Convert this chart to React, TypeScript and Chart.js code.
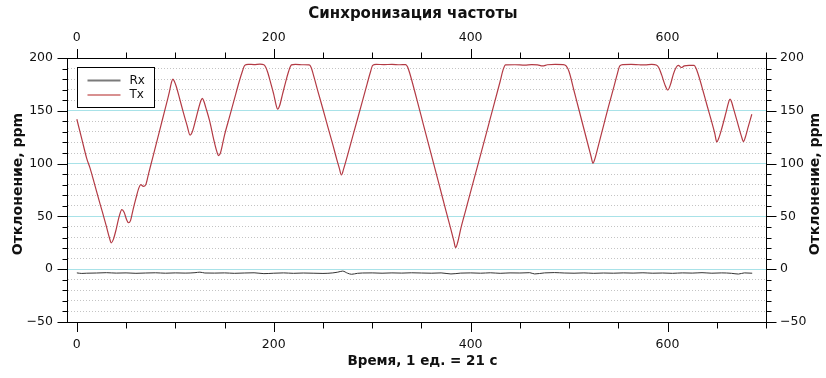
import React, { useEffect, useRef } from 'react';
import { Chart, registerables } from 'chart.js';

Chart.register(...registerables);

const FONT = "'DejaVu Sans', sans-serif";

const chartTitle = 'Синхронизация частоты';
const yAxisTitle = 'Отклонение, ppm';
const xAxisTitle = 'Время, 1 ед. = 21 с';
const seriesNames = ['Rx', 'Tx'];

const xMin = -10;
const xMax = 700;
const yMin = -50;
const yMax = 200;

// Tx series: [time, deviation]
const txSeries: [number, number][] = [
  [0, 142], [5, 123.5], [10, 105], [13.5, 95.5], [18, 80.5], [22, 67], [26, 54], [30, 40.5],
  [33, 30], [35, 25], [37, 28], [40, 38], [43, 50], [45.7, 56.5], [48, 54], [50.5, 47],
  [52.5, 44], [54.5, 46], [57, 56], [60, 67], [63, 77], [65, 80], [67.5, 78.5], [70, 80],
  [73, 91], [77, 105.5], [82, 123.7], [87, 142], [91, 156.5], [94, 168], [96, 176.5], [97.5, 180],
  [99, 178], [101, 173], [104, 163], [108, 149], [112, 136], [115, 127], [117, 129.5], [120, 139],
  [123, 150], [126, 159.5], [127.5, 161.8], [129, 159], [131, 153], [135, 140], [139, 123], [142, 112],
  [144, 107.5], [146, 110.5], [150, 127], [155, 144], [160, 161], [165, 178], [168, 187], [170.5, 193],
  [174, 194], [180, 193.8], [186, 194.2], [190, 193.6], [192, 191], [194, 186], [197, 176], [200, 165.5],
  [202, 157], [204, 151.5], [206, 155], [209, 166], [212, 177], [215, 187], [218, 193.5], [222, 194],
  [230, 193.6], [236, 193.4], [238, 191], [240, 185], [245, 168], [250, 151.5], [255, 134.5], [260, 118],
  [264, 104], [266.5, 96], [268.7, 89.2], [271, 95], [275, 108], [280, 125], [285, 142], [290, 159],
  [295, 176], [298, 186], [300.5, 193], [304, 194], [312, 193.7], [320, 194], [328, 193.6], [334, 193.8],
  [336, 191.5], [338, 186], [345, 162], [352, 137], [360, 108.5], [368, 80], [375, 55], [380, 37.5],
  [383, 26.5], [384.8, 20.4], [387, 26], [390, 38.5], [395, 56], [400, 73.5], [410, 108], [420, 143],
  [430, 178], [433, 189], [435.5, 193.5], [445, 193.6], [455, 193.2], [462, 193.8], [468, 193.5], [473, 192.5],
  [478, 193.6], [486, 194], [494, 193.8], [497, 192.5], [500, 187], [505, 169], [510, 151], [515, 133],
  [520, 115], [522.5, 106], [524.2, 100.3], [526, 104], [530, 118], [535, 136], [540, 154], [545, 171],
  [549, 185], [551.5, 192.5], [555, 193.8], [563, 194], [571, 193.6], [577, 193.4], [584, 194], [588.5, 193.4],
  [591, 191], [594, 184], [597, 175.5], [600.3, 169.7], [603, 175], [606, 185], [609, 191.5], [611, 193],
  [614, 191], [617, 192.5], [622, 193], [627, 193], [629, 190], [632, 182], [636, 169], [640, 155.5],
  [645, 139], [648, 128.5], [650, 120.5], [652, 124], [655, 133], [659, 147], [662, 158], [663.5, 161],
  [665, 158.5], [667, 152], [671, 139], [675, 126], [677.2, 120.8], [679, 125], [682, 135], [685.6, 146.7],
];

// Rx series: [time, deviation]
const rxSeries: [number, number][] = [
  [0, -3.5], [5, -4], [10, -3.8], [20, -3.6], [30, -3.3], [40, -3.7], [50, -3.5], [60, -3.9],
  [70, -3.6], [80, -3.4], [90, -3.8], [100, -3.5], [110, -3.7], [120, -3.3], [125, -2.8], [130, -3.6],
  [140, -3.7], [150, -3.5], [160, -3.9], [170, -3.6], [180, -3.4], [190, -4.2], [200, -3.8], [210, -3.5],
  [220, -3.9], [230, -3.6], [240, -3.8], [250, -4], [260, -3.5], [265, -2.8], [270, -1.8], [275, -3.8],
  [279, -4.8], [285, -3.9], [290, -3.6], [300, -3.5], [310, -3.8], [320, -3.5], [330, -3.7], [340, -3.4],
  [350, -3.6], [360, -3.8], [370, -3.5], [380, -4.5], [390, -3.7], [400, -3.5], [410, -3.8], [420, -3.4],
  [430, -3.9], [440, -3.5], [450, -3.6], [460, -3.3], [465, -4.5], [475, -3.5], [485, -3.2], [495, -3.6],
  [505, -3.8], [515, -3.5], [525, -3.9], [535, -3.6], [545, -3.8], [555, -3.5], [565, -3.7], [575, -3.4],
  [585, -3.8], [595, -3.6], [605, -3.9], [615, -3.5], [625, -3.7], [635, -3.3], [645, -3.8], [655, -3.5],
  [665, -3.9], [672, -4.6], [678, -3.5], [686, -3.8],
];

const seriesColors = ['#333333', '#b33a44'];
const legendColors = ['#7a7a7a', '#d89090'];

const fmt = (v: number) => (v < 0 ? '\u2212' + Math.abs(v) : String(v));

const tickMarks = {
  id: 'tickMarks',
  afterDraw(chart: any) {
    const { ctx, chartArea: a, scales } = chart;
    ctx.save();
    ctx.strokeStyle = '#000';
    ctx.lineWidth = 1;
    ctx.beginPath();
    const bottom = Math.round(a.bottom) + 0.5;
    const top = Math.round(a.top) + 0.5;
    const left = Math.round(a.left) + 0.5;
    const right = Math.round(a.right) + 0.5;
    for (const t of scales.x.ticks) {
      const p = Math.round(scales.x.getPixelForValue(t.value)) + 0.5;
      const len = t.value % 200 === 0 ? 9.5 : 6;
      ctx.moveTo(p, bottom);
      ctx.lineTo(p, bottom + len);
    }
    for (const t of scales.x2.ticks) {
      const p = Math.round(scales.x2.getPixelForValue(t.value)) + 0.5;
      const len = t.value % 200 === 0 ? 9.5 : 6;
      ctx.moveTo(p, top);
      ctx.lineTo(p, top - len);
    }
    for (const t of scales.y.ticks) {
      const p = Math.round(scales.y.getPixelForValue(t.value)) + 0.5;
      const len = t.value % 50 === 0 ? 10 : 5;
      ctx.moveTo(left, p);
      ctx.lineTo(left - len, p);
    }
    for (const t of scales.y2.ticks) {
      const p = Math.round(scales.y2.getPixelForValue(t.value)) + 0.5;
      const len = t.value % 50 === 0 ? 10 : 5;
      ctx.moveTo(right, p);
      ctx.lineTo(right + len, p);
    }
    ctx.stroke();
    ctx.restore();
  },
};

const legendBox = {
  id: 'legendBox',
  afterDraw(chart: any) {
    const { ctx, chartArea: a } = chart;
    const x = Math.round(a.left) + 10.5;
    const y = Math.round(a.top) + 9.5;
    const w = 77;
    const h = 40;
    ctx.save();
    ctx.fillStyle = '#fff';
    ctx.fillRect(x, y, w, h);
    ctx.strokeStyle = '#000';
    ctx.lineWidth = 1;
    ctx.strokeRect(x, y, w, h);
    chart.data.datasets.forEach((ds: any, i: number) => {
      const ly = y + 13 + i * 14.5;
      ctx.strokeStyle = legendColors[i];
      ctx.lineWidth = 2;
      ctx.beginPath();
      ctx.moveTo(x + 10, ly);
      ctx.lineTo(x + 43, ly);
      ctx.stroke();
      ctx.fillStyle = '#111';
      ctx.font = `12px ${FONT}`;
      ctx.textBaseline = 'middle';
      ctx.textAlign = 'left';
      ctx.fillText(ds.label, x + 52, ly);
    });
    ctx.restore();
  },
};

const axisTitles = {
  id: 'axisTitles',
  afterDraw(chart: any) {
    const { ctx } = chart;
    ctx.save();
    ctx.fillStyle = '#111';
    ctx.textAlign = 'center';
    ctx.textBaseline = 'middle';
    ctx.font = `bold 14px ${FONT}`;
    for (const cx of [18.5, 815]) {
      ctx.save();
      ctx.translate(cx, 184);
      ctx.rotate(-Math.PI / 2);
      ctx.fillText(yAxisTitle, 0, 0);
      ctx.restore();
    }
    ctx.font = `bold 13.5px ${FONT}`;
    ctx.fillText(xAxisTitle, 422.5, 361.5);
    ctx.restore();
  },
};

const cyan = '#a8e2e8';
const dotted = '#c4c4c4';

const yGrid = {
  color: (c: any) => (c.tick && c.tick.value % 50 === 0 ? cyan : dotted),
  lineWidth: 1,
  drawTicks: false,
};
const yBorder = {
  color: '#000',
  width: 1,
  dash: (c: any) => (c.tick && c.tick.value % 50 !== 0 ? [1, 2] : []),
};

const tickFont = { family: FONT, size: 12.5 };

const xTicks = (padding: number) => ({
  stepSize: 50,
  includeBounds: false,
  autoSkip: false,
  maxRotation: 0,
  padding,
  color: '#111',
  font: tickFont,
  callback: (v: any) => (v % 200 === 0 ? fmt(v) : ''),
});

const yTicks = {
  stepSize: 10,
  autoSkip: false,
  padding: 14,
  color: '#111',
  font: tickFont,
  callback: (v: any) => (v % 50 === 0 ? fmt(v) : ''),
};

export default function App() {
  const ref = useRef<HTMLCanvasElement>(null);

  useEffect(() => {
    if (!ref.current) return;
    const chart = new Chart(ref.current, {
      type: 'line',
      data: {
        datasets: [
          {
            label: seriesNames[0],
            data: rxSeries.map(([x, y]) => ({ x, y })),
            borderColor: seriesColors[0],
            borderWidth: 1,
            pointRadius: 0,
            cubicInterpolationMode: 'monotone',
            xAxisID: 'x',
            yAxisID: 'y',
          },
          {
            label: seriesNames[1],
            data: txSeries.map(([x, y]) => ({ x, y })),
            borderColor: seriesColors[1],
            borderWidth: 1.2,
            pointRadius: 0,
            cubicInterpolationMode: 'monotone',
            xAxisID: 'x',
            yAxisID: 'y',
          },
        ],
      },
      options: {
        responsive: false,
        animation: false,
        devicePixelRatio: 1,
        layout: { padding: 0 },
        plugins: {
          legend: { display: false },
          tooltip: { enabled: false },
          title: {
            display: true,
            text: chartTitle,
            color: '#111',
            font: { family: FONT, size: 15, weight: 'bold', lineHeight: 1.2 },
            padding: { top: 5, bottom: 3 },
          },
        },
        scales: {
          x: {
            type: 'linear',
            position: 'bottom',
            min: xMin,
            max: xMax,
            afterBuildTicks: (s: any) => {
              s.ticks = s.ticks.filter((t: any) => t.value % 50 === 0);
            },
            afterFit: (s: any) => {
              s.height = 56;
            },
            ticks: xTicks(15),
            grid: { drawOnChartArea: false, drawTicks: false },
            border: { color: '#000', width: 1 },
          },
          x2: {
            type: 'linear',
            position: 'top',
            min: xMin,
            max: xMax,
            afterBuildTicks: (s: any) => {
              s.ticks = s.ticks.filter((t: any) => t.value % 50 === 0);
            },
            afterFit: (s: any) => {
              s.height = 32;
            },
            ticks: xTicks(13),
            grid: { drawOnChartArea: false, drawTicks: false },
            border: { color: '#000', width: 1 },
          },
          y: {
            type: 'linear',
            position: 'left',
            min: yMin,
            max: yMax,
            afterBuildTicks: (s: any) => {
              s.ticks = s.ticks.filter((t: any) => t.value % 10 === 0);
            },
            afterFit: (s: any) => {
              s.width = 67;
            },
            ticks: yTicks,
            grid: yGrid,
            border: yBorder,
          },
          y2: {
            type: 'linear',
            position: 'right',
            min: yMin,
            max: yMax,
            afterBuildTicks: (s: any) => {
              s.ticks = s.ticks.filter((t: any) => t.value % 10 === 0);
            },
            afterFit: (s: any) => {
              s.width = 60;
            },
            ticks: yTicks,
            grid: { drawOnChartArea: false, drawTicks: false },
            border: { color: '#000', width: 1 },
          },
        },
      },
      plugins: [tickMarks, legendBox, axisTitles],
    } as any);
    return () => chart.destroy();
  }, []);

  return (
    <div style={{ position: 'fixed', left: 0, top: 0, width: 826, height: 378, background: '#fff' }}>
      <canvas ref={ref} width={826} height={378} style={{ display: 'block', width: 826, height: 378 }} />
    </div>
  );
}
